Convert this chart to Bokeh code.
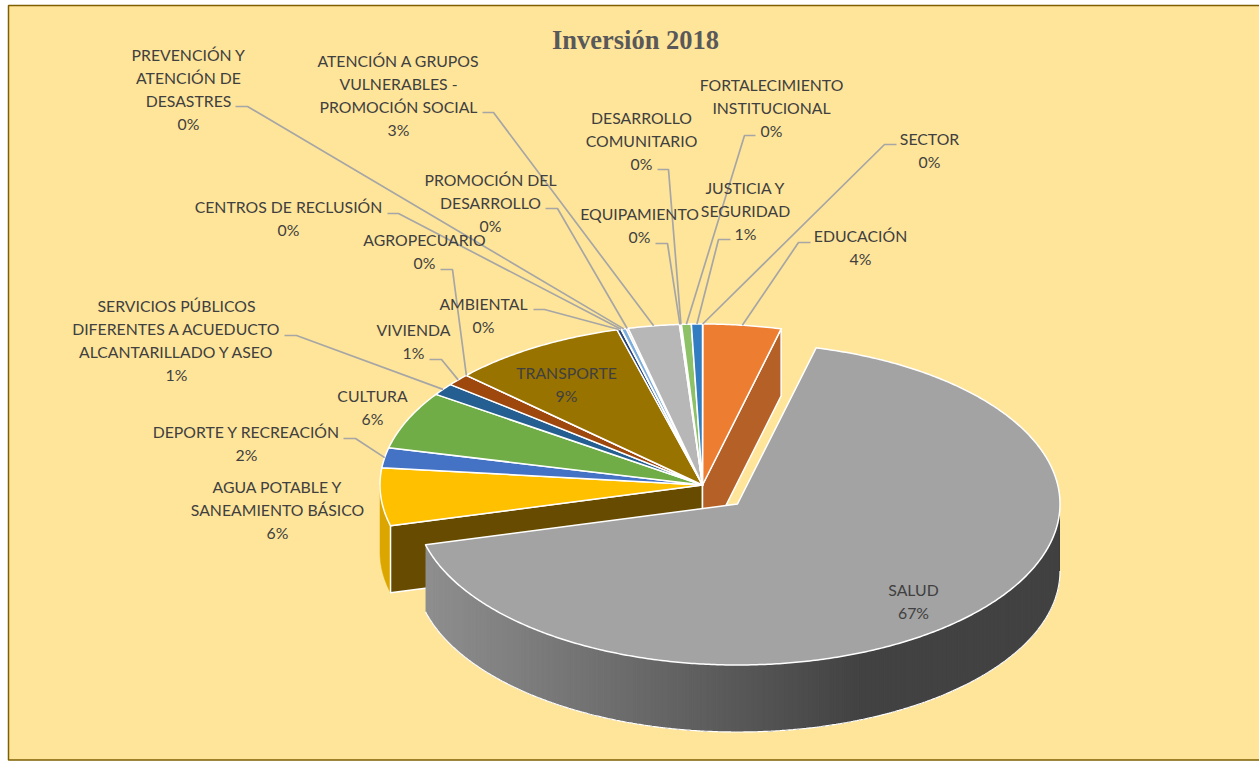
import numpy as np
from bokeh.core.properties import value
from bokeh.embed import file_html
from bokeh.models import ColumnDataSource, Range1d
from bokeh.plotting import figure
from bokeh.resources import INLINE

# Investment by sector, in percent, clockwise from twelve o'clock
SECTORS = [
    "SECTOR", "EDUCACIÓN", "SALUD", "AGUA POTABLE Y\nSANEAMIENTO BÁSICO",
    "DEPORTE Y RECREACIÓN", "CULTURA",
    "SERVICIOS PÚBLICOS\nDIFERENTES A ACUEDUCTO\nALCANTARILLADO Y ASEO",
    "VIVIENDA", "AGROPECUARIO", "TRANSPORTE", "AMBIENTAL",
    "CENTROS DE RECLUSIÓN", "PREVENCIÓN Y\nATENCIÓN DE\nDESASTRES",
    "PROMOCIÓN DEL\nDESARROLLO", "ATENCIÓN A GRUPOS\nVULNERABLES -\nPROMOCIÓN SOCIAL",
    "EQUIPAMIENTO", "DESARROLLO\nCOMUNITARIO",
    "FORTALECIMIENTO\nINSTITUCIONAL", "JUSTICIA Y\nSEGURIDAD",
]
VALUES = [0.02, 3.9, 67.0, 5.8, 2.0, 5.8, 1.2, 1.2, 0.01, 8.8, 0.2, 0.02,
          0.25, 0.1, 2.56, 0.05, 0.05, 0.49, 0.55]
COLORS = ["#5B9BD5", "#ED7D31", "#A3A3A3", "#FFC000", "#4472C4", "#70AD47",
          "#255E91", "#9E480E", "#636363", "#997300", "#264478", "#43682B",
          "#7CAFDD", "#F1975A", "#B7B7B7", "#FFCD33", "#698ED0", "#8CC168",
          "#327DC2"]

TITLE = "Inversión 2018"

# Layout: centre of each label block and first-line height
LABEL_POS = [
    (929, 139), (860, 236), (913, 590), (277, 487), (246, 432), (372, 396),
    (176, 306), (413, 330), (424, 240), (566, 373), (483, 304), (288, 207),
    (188, 55), (490, 180), (398, 61), (639, 214), (641, 118), (771, 85),
    (745, 188),
]
# Layout: leader start and elbow for each label (None = label has no leader)
LEADERS = [
    ((896, 144), (884, 144)), ((810, 242), (798, 242)), None, None,
    ((343, 438), (355, 438)), None, ((284, 335), (296, 335)),
    ((429, 359), (441, 359)), ((440, 269), (452, 269)), None,
    ((533, 309), (544, 309)), ((387, 213), (398, 213)), ((235, 106), (247, 106)),
    ((545, 208), (557, 208)), ((482, 112), (493, 112)), ((655, 243), (667, 243)),
    ((657, 169), (668, 169)), ((755, 135), (744, 135)), ((730, 239), (718, 239)),
]

CX, CY = 702.0, 484.5      # pie centre on the page
RX, RY = 322.5, 161.0      # projected radii of the tilted disc
DEPTH = 67.0               # extrusion of the disc
EXPLODE = (35.0, 19.0)     # displacement of the detached slice
DETACHED = 2               # index of the detached slice
LINE_H = 23.0
TEXT_SHIFT = -1.5          # optical correction of the text baseline

share = np.array(VALUES) / sum(VALUES) * 360.0
edges = np.concatenate([[0.0], np.cumsum(share)])


def rim(t_deg, cx=CX, cy=CY):
    t = np.radians(t_deg)
    return cx + RX * np.sin(t), cy - RY * np.cos(t)


def slice_outline(a, b, cx, cy):
    n = max(3, int((b - a) * 2))
    xs, ys = rim(np.linspace(a, b, n), cx, cy)
    return np.r_[cx, xs], np.r_[cy, ys]


def centre_of(i):
    if i == DETACHED:
        return CX + EXPLODE[0], CY + EXPLODE[1]
    return CX, CY


p = figure(width=1259, height=761, output_backend="svg", toolbar_location=None,
           x_range=Range1d(0, 1259), y_range=Range1d(761, 0), min_border=0,
           background_fill_color="white", border_fill_color="white",
           outline_line_color=None)
p.axis.visible = False
p.grid.visible = False

# Chart panel
p.quad(left=[8], right=[1275], top=[5], bottom=[759.5], fill_color="#FFE599",
       line_color="#7F6000", line_width=1.5)

WHITE = dict(line_color="white", line_width=1.5, line_join="round")

# Outer wall of the slice next to the detached one, only its leftmost part shows
a_agua = edges[3]
ts = np.linspace(a_agua, 270.0, 30)
wx, wy = rim(ts)
p.patch(np.r_[wx, wx[::-1]], np.r_[wy, wy[::-1] + DEPTH], fill_color="#DCA600",
        line_color="#DCA600", line_width=0.5)

# Radial walls exposed by the detached slice
for t_edge, col in [(edges[DETACHED + 1], "#664B00"), (edges[DETACHED], "#B56027")]:
    ex, ey = rim(t_edge)
    p.patch([CX, ex, ex, CX], [CY, ey, ey + DEPTH, CY + DEPTH], fill_color=col, **WHITE)

# Top faces of the attached slices
for i, (a, b) in enumerate(zip(edges[:-1], edges[1:])):
    if i == DETACHED:
        continue
    cx, cy = centre_of(i)
    xs, ys = slice_outline(a, b, cx, cy)
    p.patch(xs, ys, fill_color=COLORS[i], **WHITE)

# Detached slice: outer wall shaded left to right in overlapping strips,
# painted from the left so that no seam lets the panel show through
dcx, dcy = centre_of(DETACHED)
a_d, b_d = edges[DETACHED], edges[DETACHED + 1]
t_grid = np.linspace(b_d, 90.0, 420)
gx, gy = rim(t_grid, dcx, dcy)
strip_xs, strip_ys, strip_cols = [], [], []
OVERLAP = 6
for j in range(len(t_grid) - 1):
    k = min(j + OVERLAP, len(t_grid) - 1)
    seg_x, seg_y = gx[j:k + 1], gy[j:k + 1]
    strip_xs.append(np.r_[seg_x, seg_x[::-1]])
    strip_ys.append(np.r_[seg_y, seg_y[::-1] + DEPTH])
    f = np.clip((gx[j] - 424.0) / (860.0 - 424.0), 0, 1)
    g = int(round(0x8F + f * (0x42 - 0x8F)))
    strip_cols.append(f"#{g:02x}{g:02x}{g:02x}")
p.patches(strip_xs, strip_ys, fill_color=strip_cols, line_color=None)
p.line(gx, gy + DEPTH, line_color="white", line_width=1.2)

# Detached slice: top face
xs, ys = slice_outline(a_d, b_d, dcx, dcy)
p.patch(xs, ys, fill_color=COLORS[DETACHED], **WHITE)

# Leader lines, each ending on the rim at the middle of its slice
lead_xs, lead_ys = [], []
for i, lead in enumerate(LEADERS):
    if lead is None:
        continue
    ax, ay = rim(0.5 * (edges[i] + edges[i + 1]), *centre_of(i))
    lead_xs.append([lead[0][0], lead[1][0], ax])
    lead_ys.append([lead[0][1], lead[1][1], ay])
p.multi_line(lead_xs, lead_ys, line_color="#A6A6A6", line_width=1.7)

# Labels: name lines followed by the rounded percentage
tx, ty, tt = [], [], []
for name, val, (lx, ly) in zip(SECTORS, VALUES, LABEL_POS):
    for k, line in enumerate(name.split("\n") + [f"{int(np.floor(val + 0.5))}%"]):
        tx.append(lx)
        ty.append(ly + k * LINE_H + TEXT_SHIFT)
        tt.append(line)
p.text("x", "y", "t", source=ColumnDataSource(dict(x=tx, y=ty, t=tt)),
       text_font=value("Lato"), text_font_size="15.8px", text_color="#404040",
       text_align="center", text_baseline="middle")

p.text([635], [39], [TITLE], text_font=value("Liberation Serif"),
       text_font_style="bold", text_font_size="26.5px", text_color="#595959",
       text_align="center", text_baseline="middle")

open("out.html", "w").write(file_html(p, INLINE))
